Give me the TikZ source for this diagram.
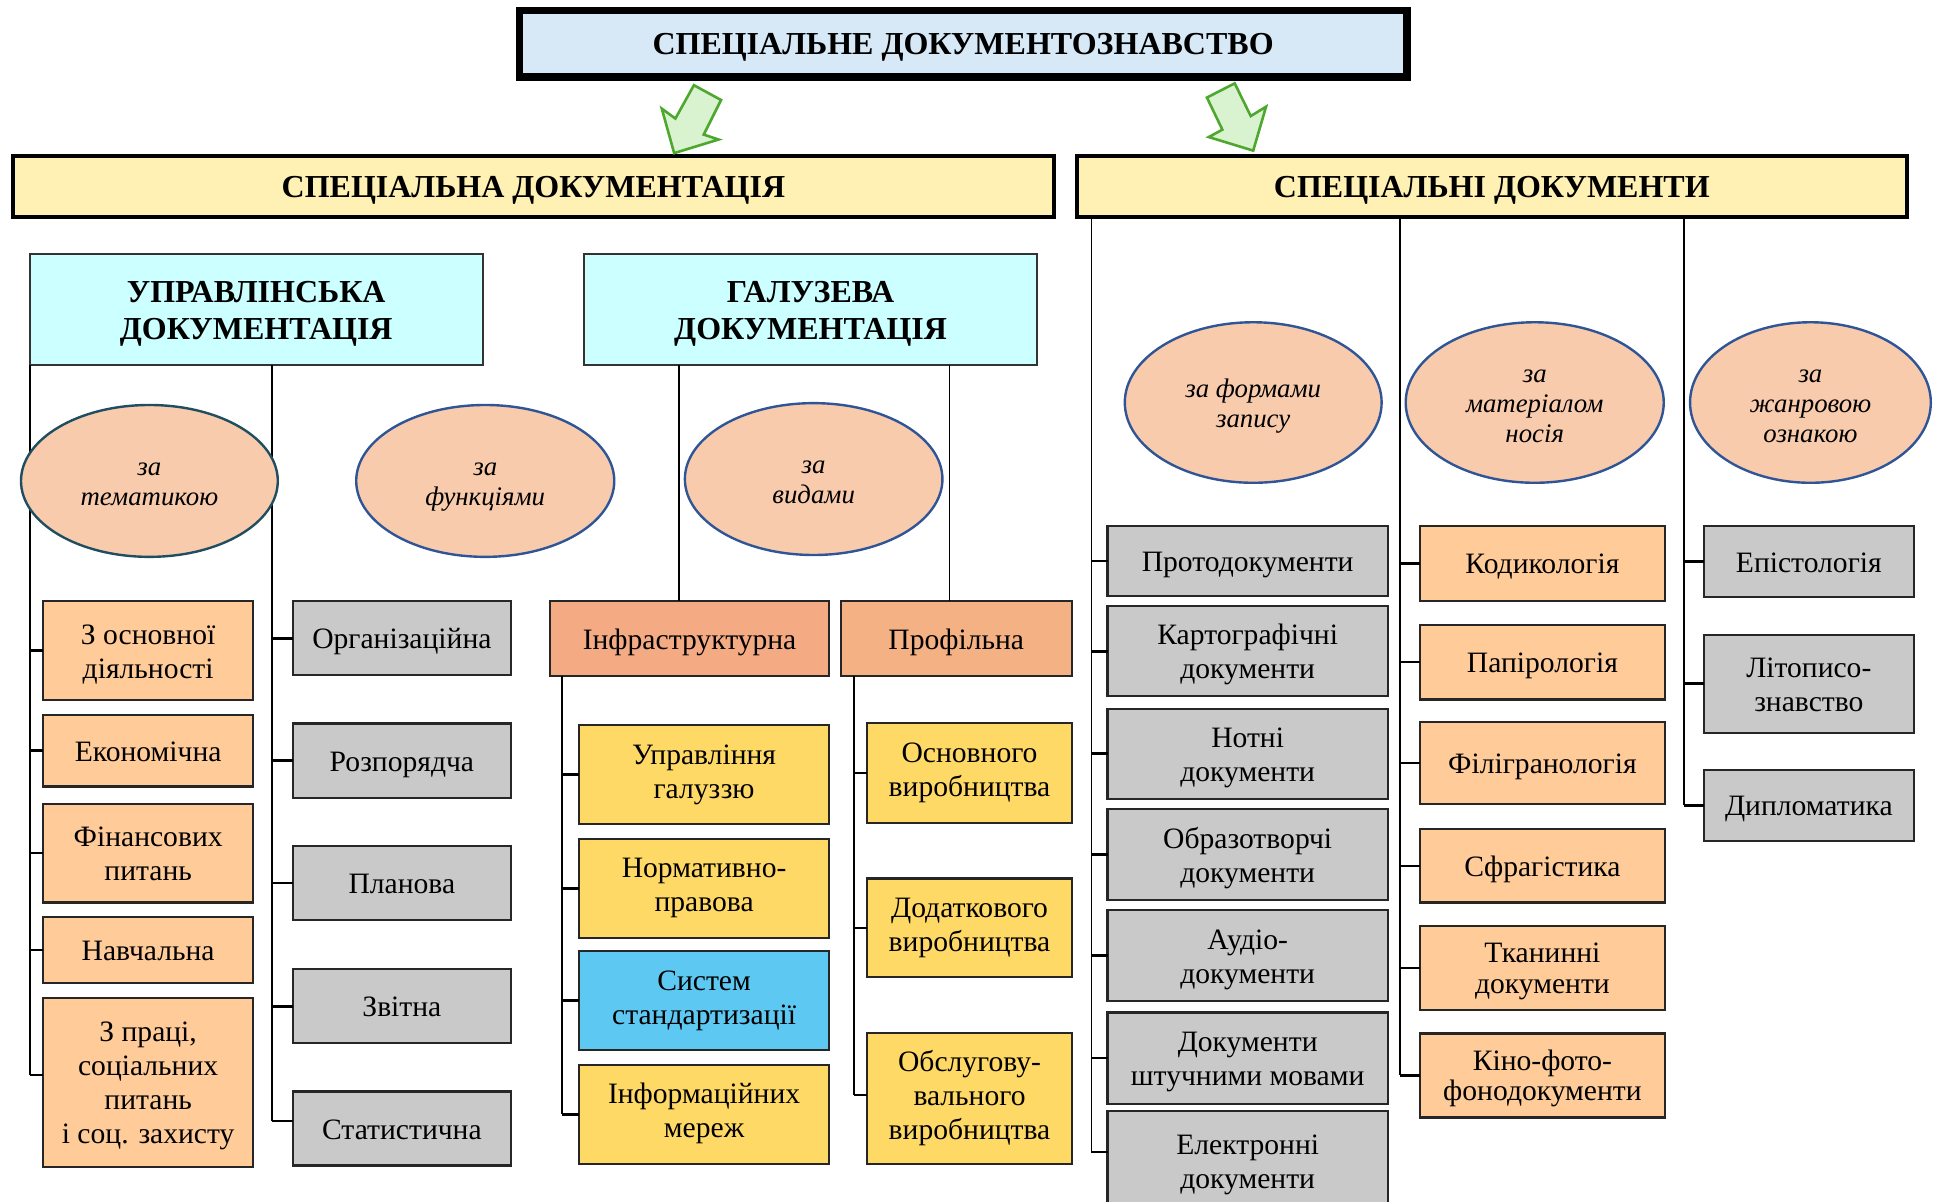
\documentclass[tikz,border=0pt]{standalone}
\usepackage{fontspec}
\setmainfont{Liberation Serif}
\usetikzlibrary{shapes.geometric}
\definecolor{titleblue}{HTML}{D7E9F7}
\definecolor{hyellow}{HTML}{FFF0B4}
\definecolor{cyanbox}{HTML}{CCFFFF}
\definecolor{ellfill}{HTML}{F8CBAD}
\definecolor{ellblue}{HTML}{2F5597}
\definecolor{ellteal}{HTML}{1F4E60}
\definecolor{orangebox}{HTML}{FFCC99}
\definecolor{graybox}{HTML}{C9C9C9}
\definecolor{infrabox}{HTML}{F4AB84}
\definecolor{profbox}{HTML}{F4B183}
\definecolor{yellowbox}{HTML}{FFD966}
\definecolor{bluebox}{HTML}{5DC9F3}
\definecolor{arrgreen}{HTML}{4EA72E}
\definecolor{arrfill}{HTML}{D9F2D0}
\newcommand{\headfont}{\fontsize{16}{18.5}\selectfont\bfseries}
\newcommand{\bodyfont}{\fontsize{14.8}{17}\selectfont}
\newcommand{\tightfont}{\fontsize{14.8}{15.3}\selectfont}
\newcommand{\ellfont}{\fontsize{13.4}{15}\selectfont\itshape}
% centred lines of text, lowered a little inside their shape
\newcommand{\textlower}{-1.9pt}
\newcommand{\tl}[1]{\raisebox{\textlower}[\height][\depth]{\begin{tabular}{@{}c@{}}#1\end{tabular}}}
\def\uu{0.6174pt}
% style, name, x1, y1, x2, y2, text
\newcommand{\mybox}[7]{\node[#1, anchor=north west, minimum width={(#5-#3)*\uu}, minimum height={(#6-#4)*\uu}] (#2) at (#3,#4) {\tl{#7}};}
\begin{document}
\begin{tikzpicture}[x=0.6174pt,y=-0.6174pt,
  titlebox/.style={draw=black, line width=3.6pt, fill=titleblue, font=\headfont, inner sep=0, outer sep=0},
  hbar/.style={draw=black, line width=2pt, fill=hyellow, font=\headfont, inner sep=0, outer sep=0},
  cbox/.style={draw=black!80, line width=1pt, fill=cyanbox, font=\headfont, inner sep=0, outer sep=0},
  ell/.style={ellipse, draw=ellblue, line width=1.2pt, fill=ellfill, font=\ellfont, inner sep=0, outer sep=0},
  sbox/.style={draw=black!85, line width=1.1pt, font=\bodyfont, inner sep=0, outer sep=0},
  obox/.style={sbox, fill=orangebox},
  gbox/.style={sbox, fill=graybox},
  ybox/.style={sbox, fill=yellowbox, execute at begin node={\renewcommand{\textlower}{0.1pt}}},
  tight/.style={font=\tightfont},
  trunk/.style={draw=black, line width=0.9pt},
  tick/.style={draw=black, line width=1.3pt},
  bigarrow/.style={draw=arrgreen, line width=1.3pt, fill=arrfill, line join=miter}
]
\useasboundingbox (0,0) rectangle (1568,973);

% ---------- coordinates for trunk lines ----------
\coordinate (XL1) at (24,0);
\coordinate (XL2) at (220,0);
\coordinate (XG1) at (550,0);
\coordinate (XG2) at (769,0);
\coordinate (XI) at (455,0);
\coordinate (XP) at (691.4,0);
\coordinate (XR1) at (884,0);
\coordinate (XR2) at (1134,0);
\coordinate (XR3) at (1364,0);

% ---------- top ----------
\mybox{titlebox}{title}{420.5}{8.4}{1139.5}{62.3}{СПЕЦІАЛЬНЕ ДОКУМЕНТОЗНАВСТВО}
\mybox{hbar}{hleft}{10.6}{126.3}{853.4}{176}{СПЕЦІАЛЬНА ДОКУМЕНТАЦІЯ}
\mybox{hbar}{hright}{872}{126.3}{1544.5}{176}{СПЕЦІАЛЬНІ ДОКУМЕНТИ}

% green arrows
\draw[bigarrow] (562,69) -- (584,81) -- (570,109) -- (582,113) -- (546,124) -- (536,88) -- (547,96) -- cycle;
\draw[bigarrow] (1000,67.5) -- (977.5,79) -- (990,105) -- (979,111) -- (1015,122) -- (1025.4,86.4) -- (1013,94) -- cycle;

% ---------- left: second level ----------
\mybox{cbox}{upr}{24}{206}{391}{296}{УПРАВЛІНСЬКА\\ДОКУМЕНТАЦІЯ}
\mybox{cbox}{gal}{473}{206}{840}{296}{ГАЛУЗЕВА\\ДОКУМЕНТАЦІЯ}

% orange column
\mybox{obox}{b1}{35}{487}{205}{567}{З основної\\діяльності}
\mybox{obox}{b2}{35}{579}{205}{637}{Економічна}
\mybox{obox}{b3}{35}{651}{205}{731}{Фінансових\\питань}
\mybox{obox}{b4}{35}{743}{205}{796}{Навчальна}
\mybox{obox}{b5}{35}{808}{205}{945}{З праці,\\соціальних\\питань\\і соц. захисту}

% gray column
\mybox{gbox}{g1}{237}{487}{414}{547}{Організаційна}
\mybox{gbox}{g2}{237}{586}{414}{646}{Розпорядча}
\mybox{gbox}{g3}{237}{685}{414}{745}{Планова}
\mybox{gbox}{g4}{237}{785}{414}{845}{Звітна}
\mybox{gbox}{g5}{237}{884}{414}{944}{Статистична}

% branch
\mybox{sbox, fill=infrabox}{infra}{445.5}{487}{671.5}{547.5}{Інфраструктурна}
\mybox{sbox, fill=profbox}{prof}{681}{487}{868}{547.5}{Профільна}

\mybox{ybox}{y1}{469}{587}{671.5}{667.5}{Управління\\галуззю}
\mybox{ybox}{y2}{469}{679.5}{671.5}{759.5}{Нормативно-\\правова}
\mybox{ybox, fill=bluebox}{y3}{469}{770.5}{671.5}{850.5}{Систем\\стандартизації}
\mybox{ybox}{y4}{469}{862.5}{671.5}{942.5}{Інформаційних\\мереж}

\mybox{ybox}{p1}{702.5}{585.5}{868}{666.5}{Основного\\виробництва}
\mybox{ybox}{p2}{702.5}{711.5}{868}{791.5}{Додаткового\\виробництва}
\mybox{ybox}{p3}{702.5}{836.5}{868}{943}{Обслугову-\\вального\\виробництва}

% ---------- right columns ----------
\mybox{gbox}{r1}{897}{426}{1124}{483}{Протодокументи}
\mybox{gbox}{r2}{897}{491}{1124}{564}{Картографічні\\документи}
\mybox{gbox}{r3}{897}{574}{1124}{647}{Нотні\\документи}
\mybox{gbox}{r4}{897}{655}{1124}{729}{Образотворчі\\документи}
\mybox{gbox}{r5}{897}{737}{1124}{811}{Аудіо-\\документи}
\mybox{gbox}{r6}{897}{820}{1124}{894}{Документи\\штучними мовами}
\mybox{gbox}{r7}{897}{900}{1124}{980}{Електронні\\документи}

\mybox{obox}{c1}{1150}{426}{1348.5}{486.5}{Кодикологія}
\mybox{obox}{c2}{1150}{506}{1348.5}{566.5}{Папірологія}
\mybox{obox}{c3}{1150}{585}{1348.5}{651}{Філігранологія}
\mybox{obox}{c4}{1150}{671.5}{1348.5}{731}{Сфрагістика}
\mybox{obox, tight}{c5}{1150}{750}{1348.5}{818}{Тканинні\\документи}
\mybox{obox, tight}{c6}{1150}{837}{1348.5}{905}{Кіно-фото-\\фонодокументи}

\mybox{gbox}{e1}{1380}{426}{1550}{483.5}{Епістологія}
\mybox{gbox}{e2}{1380}{514}{1550}{593.5}{Літописо-\\знавство}
\mybox{gbox}{e3}{1380}{623.5}{1550}{681}{Дипломатика}

% ---------- connectors ----------
% left management column
\draw[trunk] (upr.south -| XL1) -- ([yshift=3.7pt]b5.west -| XL1);
\foreach \n in {b1,b2,b3,b4} \draw[tick] (\n.west -| XL1) -- (\n.west);
\draw[tick] ([yshift=3.7pt]b5.west -| XL1) -- ([yshift=3.7pt]b5.west);
\draw[trunk] (upr.south -| XL2) -- ([yshift=3.7pt]g5.west -| XL2);
\foreach \n in {g1,g2,g3,g4} \draw[tick] (\n.west -| XL2) -- (\n.west);
\draw[tick] ([yshift=3.7pt]g5.west -| XL2) -- ([yshift=3.7pt]g5.west);

% branch
\draw[trunk] (gal.south -| XG1) -- (infra.north -| XG1);
\draw[trunk] (gal.south -| XG2) -- (prof.north -| XG2);
\draw[trunk] (infra.south -| XI) -- (y4.west -| XI);
\foreach \n in {y1,y2,y3,y4} \draw[tick] (\n.west -| XI) -- (\n.west);
\draw[trunk] (prof.south -| XP) -- ([yshift=1.8pt]p3.west -| XP);
\foreach \n in {p1,p2} \draw[tick] (\n.west -| XP) -- (\n.west);
\draw[tick] ([yshift=1.8pt]p3.west -| XP) -- ([yshift=1.8pt]p3.west);

% right
\draw[trunk] (hright.south -| XR1) -- ([yshift=4.3pt]r7.west -| XR1);
\foreach \n in {r1,r2,r3,r4,r5,r6} \draw[tick] (\n.west -| XR1) -- (\n.west);
\draw[tick] ([yshift=4.3pt]r7.west -| XR1) -- ([yshift=4.3pt]r7.west);
\draw[trunk] (hright.south -| XR2) -- (c6.west -| XR2);
\foreach \n in {c1,c2,c3,c4,c5,c6} \draw[tick] (\n.west -| XR2) -- (\n.west);
\draw[trunk] (hright.south -| XR3) -- (e3.west -| XR3);
\foreach \n in {e1,e2,e3} \draw[tick] (\n.west -| XR3) -- (\n.west);

% ---------- ellipses (on top of trunks) ----------
\node[ell, draw=ellteal, minimum width={208*\uu}, minimum height={123*\uu}] (et) at (121,389.5) {\tl{за\\тематикою}};
\node[ell, minimum width={209*\uu}, minimum height={123*\uu}] (ef) at (393,389.5) {\tl{за\\функціями}};
\node[ell, minimum width={208.6*\uu}, minimum height={123*\uu}] (ev) at (659,388) {\tl{за\\видами}};
\node[ell, minimum width={208*\uu}, minimum height={130*\uu}] (ez) at (1015,326) {\tl{за формами\\запису}};
\node[ell, minimum width={209*\uu}, minimum height={130*\uu}] (em) at (1243,326) {\tl{за\\матеріалом\\носія}};
\node[ell, minimum width={195*\uu}, minimum height={130*\uu}] (ej) at (1466.3,326) {\tl{за\\жанровою\\ознакою}};
\end{tikzpicture}
\end{document}
